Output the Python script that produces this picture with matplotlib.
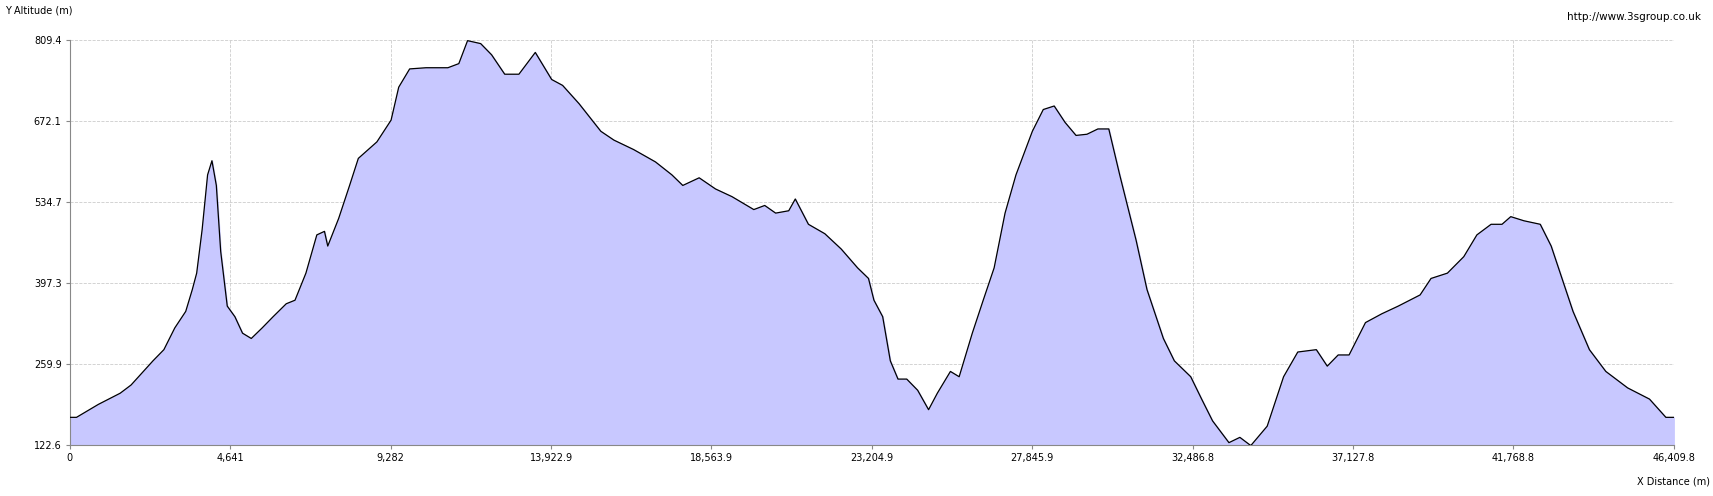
import matplotlib
matplotlib.use("Agg")
import matplotlib.pyplot as plt

distance = [0,190,822,1454,1770,2403,2719,3035,3351,3541,3668,3826,3984,4110,4237,4363,4553,4774,4995,5248,5564,5880,6260,6513,6829,7145,7366,7461,7777,8093,8346,8883,9294,9515,9831,10306,10938,11254,11507,11886,12202,12582,12993,13467,13941,14257,14732,15364,15743,16312,16944,17419,17735,18209,18683,19158,19790,20106,20422,20801,20991,21371,21845,22319,22793,23109,23267,23520,23741,23963,24216,24532,24848,25101,25480,25733,26113,26429,26745,27061,27377,27851,28167,28483,28799,29115,29431,29747,30063,30379,30853,31169,31643,31960,32434,32750,33066,33540,33856,34172,34647,35121,35532,36069,36385,36701,37017,37491,37965,38439,39072,39388,39862,40336,40715,41126,41442,41695,42075,42549,42865,43497,43971,44446,45078,45710,46184,46410]
altitude = [169,169,191,210,224,265,284,321,349,386,414,488,581,605,563,451,358,340,312,303,321,340,362,368,414,479,485,460,507,563,609,637,674,730,761,763,763,770,809,804,785,752,752,789,743,733,702,655,640,624,603,581,563,576,557,544,522,529,516,520,540,497,481,455,423,405,368,340,265,234,234,215,182,210,247,238,312,368,423,516,581,655,692,698,670,648,650,659,659,581,470,386,303,265,238,200,163,126,135,121,154,238,280,284,256,275,275,330,345,358,377,405,414,442,479,497,497,510,503,497,460,349,284,247,219,200,169,169]
xticks = [0,4641,9282,13922.9,18563.9,23204.9,27845.9,32486.8,37127.8,41768.8,46409.8]
xticklabels = ["0","4,641","9,282","13,922.9","18,563.9","23,204.9","27,845.9","32,486.8","37,127.8","41,768.8","46,409.8"]
yticks = [122.6,259.9,397.3,534.7,672.1,809.4]
yticklabels = ["122.6","259.9","397.3","534.7","672.1","809.4"]

W, H = 1568, 454
fig = plt.figure(figsize=(17.13,4.96), dpi=100)
ax = fig.add_axes([64/W, 47/H, 1468/W, 370/H])
ax.fill_between(distance, altitude, 122.6, color="#c8c8ff", zorder=2)
ax.plot(distance, altitude, color="black", lw=0.9, zorder=3)
ax.set_xlim(0, 46409.8); ax.set_ylim(122.6, 809.4)
ax.set_xticks(xticks); ax.set_xticklabels(xticklabels, fontsize=7)
ax.set_yticks(yticks); ax.set_yticklabels(yticklabels, fontsize=7)
ax.grid(True, ls="--", color="#cccccc", lw=0.6, zorder=0)
for s in ["top","right"]:
    ax.spines[s].set_visible(False)
ax.spines["left"].set_color("#888888"); ax.spines["bottom"].set_color("#888888")
ax.tick_params(length=3, color="#888888", pad=3)
fig.text(5/W, 1-10/H, "Y Altitude (m)", fontsize=7, va="center")
fig.text(1557/W, 1-16/H, "http://www.3sgroup.co.uk", fontsize=7.5, va="center", ha="right")
fig.text(1565/W, 1-441/H, "X Distance (m)", fontsize=7, va="center", ha="right")
fig.savefig("out.png", dpi=100)
